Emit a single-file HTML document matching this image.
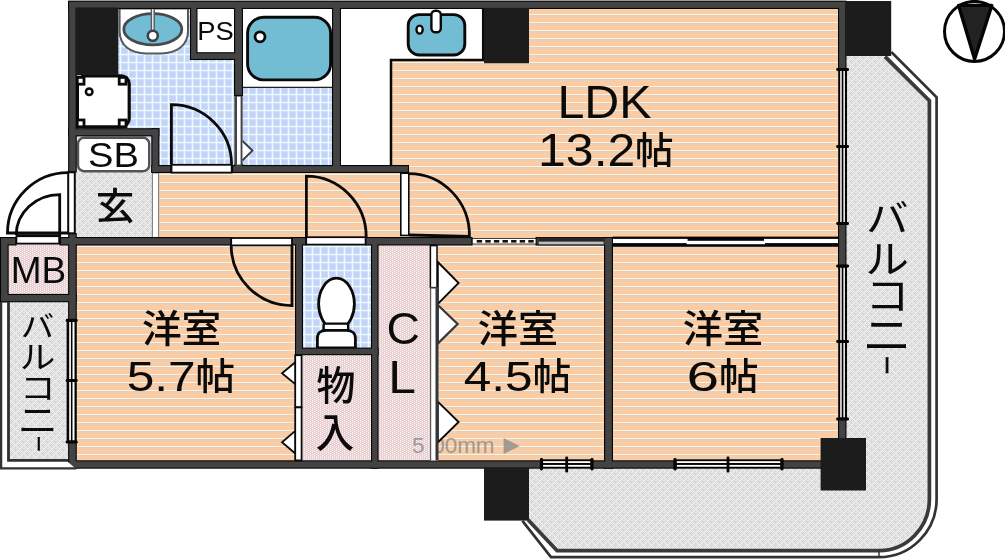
<!DOCTYPE html>
<html lang="ja"><head><meta charset="utf-8"><title>間取り図</title>
<style>html,body{margin:0;padding:0;background:#fff;overflow:hidden}svg{display:block}text{white-space:pre}</style></head>
<body><svg width="1005" height="559" viewBox="0 0 1005 559"><defs>
<pattern id="pO" width="8" height="8" patternUnits="userSpaceOnUse"><rect width="8" height="8" fill="#fccba2"/><rect y="0" width="8" height="1" fill="#efcfb3"/><rect y="1" width="8" height="1" fill="#f7cea9"/><rect y="4" width="8" height="1" fill="#fbcda5"/><rect y="5" width="8" height="1" fill="#f6cba6"/><rect y="6" width="8" height="1" fill="#fff3de"/><rect y="7" width="8" height="1" fill="#e7ccb6"/></pattern>
<pattern id="pB" width="8" height="8" patternUnits="userSpaceOnUse"><rect width="8" height="8" fill="#c5d3f6"/><rect x="-0.25" width="1.5" height="8" fill="#ecfcff"/><rect x="7.75" width="0.25" height="8" fill="#ecfcff"/><rect y="5.75" width="8" height="1.5" fill="#ecfcff"/></pattern>
<pattern id="pG" width="8" height="8" patternUnits="userSpaceOnUse"><rect width="8" height="8" fill="#dadada"/><g fill="#e7e7e7"><rect x="2" y="4" width="1" height="1"/><rect x="2" y="6" width="1" height="1"/><rect x="4" y="4" width="1" height="1"/><rect x="4" y="6" width="1" height="1"/><rect x="6" y="0" width="1" height="1"/><rect x="6" y="2" width="1" height="1"/><rect x="0" y="0" width="1" height="1"/><rect x="0" y="2" width="1" height="1"/></g><g fill="#f8f8f8"><rect x="0" y="4" width="1" height="1"/><rect x="0" y="6" width="1" height="1"/><rect x="1" y="3" width="1" height="1"/><rect x="1" y="7" width="1" height="1"/><rect x="2" y="2" width="1" height="1"/><rect x="2" y="0" width="1" height="1"/><rect x="3" y="1" width="1" height="1"/><rect x="3" y="1" width="1" height="1"/><rect x="4" y="0" width="1" height="1"/><rect x="4" y="2" width="1" height="1"/><rect x="5" y="7" width="1" height="1"/><rect x="5" y="3" width="1" height="1"/><rect x="6" y="6" width="1" height="1"/><rect x="6" y="4" width="1" height="1"/><rect x="7" y="5" width="1" height="1"/><rect x="7" y="5" width="1" height="1"/></g></pattern>
<pattern id="pP" width="4" height="2" patternUnits="userSpaceOnUse"><rect width="4" height="2" fill="#e8cecf"/><rect x="0" y="0" width="1.1" height="1" fill="#fffafa"/><rect x="2" y="1" width="1.1" height="1" fill="#fffafa"/></pattern>
</defs>
<rect width="1005" height="559" fill="#fff"/>
<rect x="341" y="8" width="499" height="232" fill="url(#pO)" />
<rect x="156" y="172" width="253" height="68" fill="url(#pO)" />
<rect x="74" y="244" width="223" height="218" fill="url(#pO)" />
<rect x="436" y="244" width="170" height="218" fill="url(#pO)" />
<rect x="611" y="244" width="229" height="218" fill="url(#pO)" />
<rect x="74" y="8" width="162" height="159" fill="url(#pB)" />
<rect x="241" y="86" width="93" height="81" fill="url(#pB)" />
<rect x="301" y="244" width="72" height="105" fill="url(#pB)" />
<rect x="6" y="244" width="64" height="52" fill="url(#pP)" />
<rect x="301" y="354" width="72" height="108" fill="url(#pP)" />
<rect x="377" y="244" width="55" height="218" fill="url(#pP)" />
<rect x="74" y="135" width="79" height="104" fill="url(#pG)" />
<rect x="8" y="302.5" width="62" height="158.0" fill="url(#pG)" />
<path d="M844 54L886.5 54L929.4 99.5L929.4 499A50.5 51.5 0 0 1 879 550.6L557.5 550.6L527 519L527 466L844 466Z" fill="url(#pG)"/>
<rect x="241" y="8" width="93" height="79" fill="#fff" />
<rect x="341" y="8" width="50" height="157.5" fill="#fff" />
<rect x="341" y="8" width="144" height="51.5" fill="#fff" />
<path d="M391 165.5L391 59.9L483.2 59.9L483.2 9" fill="none" stroke="#0a0a0a" stroke-width="2.5"/>
<path d="M241 87.3L334 87.3" fill="none" stroke="#222" stroke-width="1.3"/>
<rect x="196" y="8" width="40" height="45" fill="#fff" />
<rect x="247.6" y="17.3" width="83" height="62.6" rx="16" ry="16" fill="#72bdd3" stroke="#0a0a0a" stroke-width="2.9"/>
<circle cx="260" cy="36.8" r="5" fill="#fff" stroke="#0a0a0a" stroke-width="2.8"/>
<rect x="408.2" y="14.6" width="56.6" height="40.4" rx="11" ry="11" fill="#72bdd3" stroke="#0a0a0a" stroke-width="2.9"/>
<ellipse cx="419.6" cy="29.6" rx="3.1" ry="4" fill="#fff" stroke="#0a0a0a" stroke-width="2.4"/>
<rect x="431.4" y="10.8" width="9.4" height="21.4" rx="4" ry="4" fill="#fff" stroke="#0a0a0a" stroke-width="2.4"/>
<path d="M119.6 8.5L188 8.5L188 31C188 46 176 53.4 161 53.4L146 53.4C131 53.4 119.6 46 119.6 31Z" fill="#fff" stroke="#55585c" stroke-width="2"/>
<ellipse cx="152.8" cy="29.3" rx="29" ry="15.6" fill="#72bdd3" stroke="#46494e" stroke-width="2.8"/>
<path d="M152.8 8.5L152.8 30" stroke="#55585c" stroke-width="4.2" fill="none"/><path d="M152.8 8.5L152.8 30" stroke="#fff" stroke-width="1.3" fill="none"/>
<circle cx="152.8" cy="35.8" r="5" fill="#fff" stroke="#3c3f44" stroke-width="2.6"/>
<rect x="77.4" y="75.8" width="51.8" height="51" rx="8" ry="8" fill="#fff" stroke="#0a0a0a" stroke-width="3.2"/>
<rect x="77.19999999999999" y="77.39999999999999" width="6.8" height="6.8" fill="#fff" stroke="#0a0a0a" stroke-width="2.8"/>
<rect x="119.19999999999999" y="77.39999999999999" width="6.8" height="6.8" fill="#fff" stroke="#0a0a0a" stroke-width="2.8"/>
<rect x="77.19999999999999" y="120.0" width="6.8" height="6.8" fill="#fff" stroke="#0a0a0a" stroke-width="2.8"/>
<rect x="119.19999999999999" y="120.0" width="6.8" height="6.8" fill="#fff" stroke="#0a0a0a" stroke-width="2.8"/>
<circle cx="89.2" cy="91.8" r="3.3" fill="#fff" stroke="#0a0a0a" stroke-width="2.5"/>
<path d="M336.4 278.2C347 278.2 354.4 291 354.4 304C354.4 315 349 324 345 326L328 326C324 324 318.6 315 318.6 304C318.6 291 326 278.2 336.4 278.2Z" fill="#fff" stroke="#0a0a0a" stroke-width="2.8"/>
<rect x="323.6" y="323.6" width="24.6" height="7" rx="2" fill="#fff" stroke="#0a0a0a" stroke-width="2.4"/>
<path d="M317.4 348L317.4 338C317.4 333 321 330.4 326 330.4L346.5 330.4C351.5 330.4 355.4 333 355.4 338L355.4 348Z" fill="#fff" stroke="#0a0a0a" stroke-width="2.8"/>
<rect x="78" y="137.8" width="71.2" height="33.4" rx="6" ry="6" fill="#fff" stroke="#505357" stroke-width="2.4"/>
<rect x="152.4" y="173" width="6.2" height="64.5" fill="#fff" stroke="#777" stroke-width="1"/>
<rect x="68.1" y="0.6" width="778.4" height="8.4" fill="#050505" />
<rect x="68.1" y="1" width="8.7" height="171.5" fill="#050505" />
<rect x="68.1" y="233" width="8.7" height="12.5" fill="#050505" />
<rect x="68.1" y="237" width="8.7" height="83.5" fill="#050505" />
<rect x="68.1" y="441.5" width="8.7" height="27.2" fill="#050505" />
<rect x="68.1" y="128.2" width="91.3" height="8.2" fill="#050505" />
<rect x="151.3" y="128.2" width="8.1" height="44.8" fill="#050505" />
<rect x="151.3" y="165" width="20.2" height="8" fill="#050505" />
<rect x="232" y="165" width="177" height="8" fill="#050505" />
<rect x="190" y="1" width="7.5" height="59" fill="#050505" />
<rect x="190" y="52.2" width="53" height="7.8" fill="#050505" />
<rect x="234" y="1" width="9" height="95" fill="#050505" />
<rect x="234" y="164" width="9" height="9" fill="#050505" />
<rect x="332" y="1" width="9" height="172" fill="#050505" />
<rect x="0" y="237" width="16.5" height="8.5" fill="#050505" />
<rect x="59.5" y="237" width="172.0" height="8.5" fill="#050505" />
<rect x="291.5" y="237" width="15.0" height="8.5" fill="#050505" />
<rect x="365" y="237" width="107.5" height="8.5" fill="#050505" />
<rect x="535.5" y="237" width="77.5" height="8.5" fill="#050505" />
<rect x="0" y="237" width="8.7" height="65.3" fill="#050505" />
<rect x="0" y="293.9" width="76.8" height="8.4" fill="#050505" />
<rect x="295" y="237" width="8" height="118.2" fill="#050505" />
<rect x="371" y="237" width="7.6" height="231.7" fill="#050505" />
<rect x="295" y="347.6" width="83.6" height="7.6" fill="#050505" />
<rect x="68.1" y="460.3" width="473.4" height="8.4" fill="#050505" />
<rect x="592" y="460.3" width="83" height="8.4" fill="#050505" />
<rect x="782" y="460.3" width="64.5" height="8.4" fill="#050505" />
<rect x="604" y="237" width="9" height="231.7" fill="#050505" />
<rect x="838" y="1" width="8.5" height="68.5" fill="#050505" />
<rect x="838" y="223.5" width="8.5" height="42.5" fill="#050505" />
<rect x="838" y="419" width="8.5" height="49.7" fill="#050505" />
<rect x="69.19999999999999" y="1.7000000000000002" width="776.2" height="6.2" fill="#434343" />
<rect x="69.19999999999999" y="2.1" width="6.5" height="169.3" fill="#434343" />
<rect x="69.19999999999999" y="234.1" width="6.5" height="10.3" fill="#434343" />
<rect x="69.19999999999999" y="238.1" width="6.5" height="81.3" fill="#434343" />
<rect x="69.19999999999999" y="442.6" width="6.5" height="25.0" fill="#434343" />
<rect x="69.19999999999999" y="129.29999999999998" width="89.1" height="6.0" fill="#434343" />
<rect x="152.4" y="129.29999999999998" width="5.9" height="42.6" fill="#434343" />
<rect x="152.4" y="166.1" width="18.0" height="5.8" fill="#434343" />
<rect x="233.1" y="166.1" width="174.8" height="5.8" fill="#434343" />
<rect x="191.1" y="2.1" width="5.3" height="56.8" fill="#434343" />
<rect x="191.1" y="53.300000000000004" width="50.8" height="5.6" fill="#434343" />
<rect x="235.1" y="2.1" width="6.8" height="92.8" fill="#434343" />
<rect x="235.1" y="165.1" width="6.8" height="6.8" fill="#434343" />
<rect x="333.1" y="2.1" width="6.8" height="169.8" fill="#434343" />
<rect x="1.1" y="238.1" width="14.3" height="6.3" fill="#434343" />
<rect x="60.6" y="238.1" width="169.8" height="6.3" fill="#434343" />
<rect x="292.6" y="238.1" width="12.8" height="6.3" fill="#434343" />
<rect x="366.1" y="238.1" width="105.3" height="6.3" fill="#434343" />
<rect x="536.6" y="238.1" width="75.3" height="6.3" fill="#434343" />
<rect x="1.1" y="238.1" width="6.5" height="63.1" fill="#434343" />
<rect x="1.1" y="295.0" width="74.6" height="6.2" fill="#434343" />
<rect x="296.1" y="238.1" width="5.8" height="116.0" fill="#434343" />
<rect x="372.1" y="238.1" width="5.4" height="229.5" fill="#434343" />
<rect x="296.1" y="348.70000000000005" width="81.4" height="5.4" fill="#434343" />
<rect x="69.19999999999999" y="461.40000000000003" width="471.2" height="6.2" fill="#434343" />
<rect x="593.1" y="461.40000000000003" width="80.8" height="6.2" fill="#434343" />
<rect x="783.1" y="461.40000000000003" width="62.3" height="6.2" fill="#434343" />
<rect x="605.1" y="238.1" width="6.8" height="229.5" fill="#434343" />
<rect x="839.1" y="2.1" width="6.3" height="66.3" fill="#434343" />
<rect x="839.1" y="224.6" width="6.3" height="40.3" fill="#434343" />
<rect x="839.1" y="420.1" width="6.3" height="47.5" fill="#434343" />
<rect x="75.5" y="7.5" width="42.8" height="67.7" fill="#1c1c1c" />
<rect x="484" y="8" width="45" height="55.2" fill="#1c1c1c" />
<rect x="845" y="1" width="46.2" height="55" fill="#1c1c1c" />
<rect x="484" y="467.5" width="45" height="53.1" fill="#1c1c1c" />
<rect x="820.6" y="438" width="45.4" height="52.5" fill="#1c1c1c" />
<rect x="538.5" y="237.6" width="66.0" height="7.8" fill="#262626" />
<rect x="538.8" y="241.6" width="64.8" height="2.7" fill="#bdbdbd" />
<rect x="472.3" y="238.4" width="63.7" height="5.6" fill="#fff" stroke="#111" stroke-width="0.8"/>
<rect x="476.7" y="240" width="5.4" height="2.6" fill="#111" />
<rect x="485.3" y="240" width="5.4" height="2.6" fill="#111" />
<rect x="493.9" y="240" width="5.4" height="2.6" fill="#111" />
<rect x="502.5" y="240" width="5.4" height="2.6" fill="#111" />
<rect x="511.09999999999997" y="240" width="5.4" height="2.6" fill="#111" />
<rect x="519.7" y="240" width="5.4" height="2.6" fill="#111" />
<rect x="528.3" y="240" width="5.4" height="2.6" fill="#111" />
<rect x="612.5" y="236.6" width="226.0" height="10.2" fill="#050505" />
<rect x="613" y="238.9" width="74.6" height="4.2" fill="#fff" />
<rect x="686.6" y="240.8" width="78.4" height="3.4" fill="#fff" />
<rect x="764" y="238.9" width="74" height="4.2" fill="#fff" />
<path d="M885 56.6L929.4 100.8L929.4 499A50.5 51.5 0 0 1 879 550.6L557 550.6L528 519.8" fill="none" stroke="#3a3a3a" stroke-width="3.7"/>
<path d="M891.3 52L936.6 97.2L936.6 499A57.6 58.2 0 0 1 879 557.2L551 557.2L522.4 520.8" fill="none" stroke="#333" stroke-width="2.7"/>
<path d="M879 549.5L879 558" stroke="#333" stroke-width="1.5"/>
<path d="M67.4 461.6L75.6 468.4L67.4 468.4Z" fill="#fff"/>
<path d="M8.5 302L8.5 460.4L68 460.4" fill="none" stroke="#303030" stroke-width="2.8"/>
<path d="M1.1 302L1.1 468.3L76.2 468.3" fill="none" stroke="#333" stroke-width="2.3"/>
<rect x="838.2" y="69.5" width="8.8" height="154.0" fill="#050505" />
<rect x="840.2" y="71.0" width="1.5" height="151.0" fill="#fff" />
<rect x="843.4000000000001" y="71.0" width="1.5" height="151.0" fill="#fff" />
<rect x="836.2" y="67.9" width="12.799999999999955" height="3.2" rx="1.4" fill="#050505"/>
<rect x="836.2" y="144.9" width="12.799999999999955" height="3.2" rx="1.4" fill="#050505"/>
<rect x="836.2" y="221.9" width="12.799999999999955" height="3.2" rx="1.4" fill="#050505"/>
<rect x="838.2" y="266" width="8.8" height="153" fill="#050505" />
<rect x="840.2" y="267.5" width="1.5" height="150.0" fill="#fff" />
<rect x="843.4000000000001" y="267.5" width="1.5" height="150.0" fill="#fff" />
<rect x="836.2" y="264.4" width="12.799999999999955" height="3.2" rx="1.4" fill="#050505"/>
<rect x="836.2" y="339.9" width="12.799999999999955" height="3.2" rx="1.4" fill="#050505"/>
<rect x="836.2" y="417.4" width="12.799999999999955" height="3.2" rx="1.4" fill="#050505"/>
<rect x="66.6" y="320.4" width="10.2" height="121.6" fill="#050505" />
<rect x="69.19999999999999" y="321.9" width="1.7" height="118.6" fill="#fff" />
<rect x="72.5" y="321.9" width="2.0" height="118.6" fill="#fff" />
<rect x="65.69999999999999" y="318.79999999999995" width="12.000000000000004" height="3.2" rx="1.4" fill="#050505"/>
<rect x="65.69999999999999" y="378.9" width="12.000000000000004" height="3.2" rx="1.4" fill="#050505"/>
<rect x="65.69999999999999" y="440.4" width="12.000000000000004" height="3.2" rx="1.4" fill="#050505"/>
<rect x="541.5" y="459.3" width="50.5" height="9.4" fill="#050505" />
<rect x="543.0" y="461.18" width="47.5" height="1.8" fill="#fff" />
<rect x="543.0" y="464.94" width="47.5" height="1.8" fill="#fff" />
<rect x="539.9" y="458.1" width="3.2" height="12.399999999999977" rx="1.4" fill="#050505"/>
<rect x="590.4" y="458.1" width="3.2" height="12.399999999999977" rx="1.4" fill="#050505"/>
<rect x="565.3000000000001" y="456.5" width="2.8" height="15.999999999999977" rx="1.2" fill="#050505"/>
<rect x="675" y="459.3" width="107" height="9.4" fill="#050505" />
<rect x="676.5" y="461.18" width="104.0" height="1.8" fill="#fff" />
<rect x="676.5" y="464.94" width="104.0" height="1.8" fill="#fff" />
<rect x="673.4" y="458.1" width="3.2" height="12.399999999999977" rx="1.4" fill="#050505"/>
<rect x="780.4" y="458.1" width="3.2" height="12.399999999999977" rx="1.4" fill="#050505"/>
<rect x="726.6" y="456.5" width="2.8" height="15.999999999999977" rx="1.2" fill="#050505"/>
<rect x="68.2" y="172.3" width="6.6" height="61" fill="#fff" stroke="#0a0a0a" stroke-width="2"/>
<path d="M68 172.6A60.5 60.5 0 0 0 7.5 233L68 233" fill="none" stroke="#0a0a0a" stroke-width="2.8"/>
<path d="M16 235.7L61 235.7" fill="none" stroke="#0a0a0a" stroke-width="2.8"/>
<rect x="16.4" y="236.2" width="43.4" height="7.4" fill="#fff" stroke="#0a0a0a" stroke-width="1.8"/>
<path d="M59.7 243.4L59.7 194.6A43.6 40.4 0 0 0 16.2 235" fill="none" stroke="#0a0a0a" stroke-width="2.8"/>
<rect x="171.5" y="164.8" width="60.2" height="7.8" fill="#fff" stroke="#0a0a0a" stroke-width="1.8"/>
<path d="M171.4 164.6L171.4 104.6A60.2 60 0 0 1 231.6 164.6" fill="none" stroke="#0a0a0a" stroke-width="2.8"/>
<rect x="306.2" y="237.2" width="59.4" height="7.4" fill="#fff" stroke="#0a0a0a" stroke-width="1.8"/>
<path d="M306.4 237L306.4 176.2A60 60.8 0 0 1 366.2 237" fill="none" stroke="#0a0a0a" stroke-width="2.8"/>
<rect x="231.2" y="238" width="60.8" height="7.4" fill="#fff" stroke="#0a0a0a" stroke-width="1.8"/>
<path d="M292 245.4L292 305.6A61 60.2 0 0 1 231.2 245.4" fill="none" stroke="#0a0a0a" stroke-width="2.8"/>
<rect x="400.8" y="173.2" width="8" height="62.2" fill="#fff" stroke="#0a0a0a" stroke-width="1.6"/>
<path d="M409 173.6A60.6 61.6 0 0 1 469.4 236.4L409 235" fill="none" stroke="#0a0a0a" stroke-width="2.8"/>
<rect x="234.4" y="96" width="8.2" height="69" fill="#434343" />
<rect x="237" y="96.6" width="3.6" height="68.0" fill="#fff" />
<path d="M242.6 141L252.4 150.6L242.6 160.2" fill="#fff" stroke="#3e4146" stroke-width="2"/>
<path d="M295.6 362L282 373.2L295.6 384.4Z" fill="#fff" stroke="#0a0a0a" stroke-width="1.8"/>
<path d="M295.6 430.6L282 442.2L295.6 453.8Z" fill="#fff" stroke="#0a0a0a" stroke-width="1.8"/>
<rect x="295.2" y="355.2" width="6.4" height="52" fill="#fff" stroke="#0a0a0a" stroke-width="1.8"/>
<rect x="295.2" y="407.4" width="6.4" height="53" fill="#fff" stroke="#0a0a0a" stroke-width="1.8"/>
<g opacity="0.8"><text transform="matrix(0.2243 0 0 0.2157 0 453.48)" style="font-family:'Liberation Sans', sans-serif;font-size:100px" fill="#8c8c8c"><tspan x="1836.33">5</tspan><tspan x="1916.27">1</tspan><tspan x="1926.85">00mm</tspan></text><path d="M503.6 438L519.8 446L503.6 454Z" fill="#8c8c8c"/></g>
<path d="M437.8 262L458.6 283L437.8 304Z" fill="#fff" stroke="#0a0a0a" stroke-width="1.9"/>
<path d="M437.8 305L457.6 324L437.8 343.6Z" fill="#fff" stroke="#33363a" stroke-width="2.2"/>
<path d="M437.8 401.6L458.6 422L437.8 442.4Z" fill="#fff" stroke="#0a0a0a" stroke-width="1.9"/>
<rect x="430.4" y="245.6" width="6.6" height="42" fill="#fff" stroke="#0a0a0a" stroke-width="1.5"/>
<rect x="430.2" y="288" width="7.8" height="172.4" fill="#fff"/>
<path d="M430.6 288L430.6 460.4" stroke="#555" stroke-width="1.2"/><path d="M437 288L437 460.4" stroke="#33363a" stroke-width="3"/><path d="M430 288L438 288" stroke="#555" stroke-width="1.2"/>
<g opacity="0.996">
<text fill="#0a0a0a"><tspan x="557.43" y="118.20" font-size="47.10" textLength="94.11" lengthAdjust="spacingAndGlyphs" style="font-family:'Liberation Sans', sans-serif;font-weight:400">LDK</tspan><tspan x="538.10" y="165.75" font-size="45.35" textLength="97.21" lengthAdjust="spacingAndGlyphs" style="font-family:'Liberation Sans', sans-serif;font-weight:400">13.2</tspan><tspan x="635.07" y="164.07" font-size="37.02" textLength="38.59" lengthAdjust="spacingAndGlyphs" style="font-family:'Liberation Sans', 'Noto Sans CJK JP', sans-serif;font-weight:500">帖</tspan></text>
<text fill="#0a0a0a"><tspan x="197.21" y="40.05" font-size="25.21" textLength="36.49" lengthAdjust="spacingAndGlyphs" style="font-family:'Liberation Sans', sans-serif;font-weight:400">PS</tspan></text>
<text fill="#0a0a0a"><tspan x="88.09" y="167.05" font-size="34.79" textLength="50.87" lengthAdjust="spacingAndGlyphs" style="font-family:'Liberation Sans', sans-serif;font-weight:400">SB</tspan></text>
<text fill="#0a0a0a"><tspan x="95.67" y="220.21" font-size="36.95" textLength="38.57" lengthAdjust="spacingAndGlyphs" style="font-family:'Liberation Sans', 'Noto Sans CJK JP', sans-serif;font-weight:500">玄</tspan></text>
<text fill="#0a0a0a"><tspan x="10.74" y="283.00" font-size="37.10" textLength="55.51" lengthAdjust="spacingAndGlyphs" style="font-family:'Liberation Sans', sans-serif;font-weight:400">MB</tspan></text>
<text fill="#0a0a0a"><tspan x="141.91" y="341.81" font-size="37.66" textLength="79.37" lengthAdjust="spacingAndGlyphs" style="font-family:'Liberation Sans', 'Noto Sans CJK JP', sans-serif;font-weight:500">洋室</tspan><tspan x="126.72" y="391.07" font-size="42.96" textLength="68.98" lengthAdjust="spacingAndGlyphs" style="font-family:'Liberation Sans', sans-serif;font-weight:400">5.7</tspan><tspan x="195.62" y="390.06" font-size="37.13" textLength="39.57" lengthAdjust="spacingAndGlyphs" style="font-family:'Liberation Sans', 'Noto Sans CJK JP', sans-serif;font-weight:500">帖</tspan></text>
<text fill="#0a0a0a"><tspan x="477.89" y="341.81" font-size="37.66" textLength="80.42" lengthAdjust="spacingAndGlyphs" style="font-family:'Liberation Sans', 'Noto Sans CJK JP', sans-serif;font-weight:500">洋室</tspan><tspan x="463.81" y="391.07" font-size="42.96" textLength="68.88" lengthAdjust="spacingAndGlyphs" style="font-family:'Liberation Sans', sans-serif;font-weight:400">4.5</tspan><tspan x="532.78" y="390.06" font-size="37.13" textLength="38.48" lengthAdjust="spacingAndGlyphs" style="font-family:'Liberation Sans', 'Noto Sans CJK JP', sans-serif;font-weight:500">帖</tspan></text>
<text fill="#0a0a0a"><tspan x="682.89" y="341.81" font-size="37.66" textLength="80.42" lengthAdjust="spacingAndGlyphs" style="font-family:'Liberation Sans', 'Noto Sans CJK JP', sans-serif;font-weight:500">洋室</tspan><tspan x="686.57" y="391.07" font-size="42.96" textLength="32.55" lengthAdjust="spacingAndGlyphs" style="font-family:'Liberation Sans', sans-serif;font-weight:400">6</tspan><tspan x="719.02" y="390.06" font-size="37.13" textLength="39.57" lengthAdjust="spacingAndGlyphs" style="font-family:'Liberation Sans', 'Noto Sans CJK JP', sans-serif;font-weight:500">帖</tspan></text>
<text fill="#0a0a0a"><tspan x="316.42" y="400.04" font-size="39.57" textLength="38.94" lengthAdjust="spacingAndGlyphs" style="font-family:'Liberation Sans', 'Noto Sans CJK JP', sans-serif;font-weight:500">物</tspan><tspan x="315.66" y="446.69" font-size="40.11" textLength="38.49" lengthAdjust="spacingAndGlyphs" style="font-family:'Liberation Sans', 'Noto Sans CJK JP', sans-serif;font-weight:500">入</tspan></text>
<text fill="#0a0a0a"><tspan x="386.48" y="343.96" font-size="44.37" textLength="33.47" lengthAdjust="spacingAndGlyphs" style="font-family:'Liberation Sans', sans-serif;font-weight:400">C</tspan><tspan x="388.22" y="393.00" font-size="45.51" textLength="27.69" lengthAdjust="spacingAndGlyphs" style="font-family:'Liberation Sans', sans-serif;font-weight:400">L</tspan></text>
<text transform="matrix(1.1437 0 0 1 0 0)" style="font-family:'Liberation Sans', 'Noto Sans CJK JP', sans-serif;font-weight:400" fill="#0a0a0a"><tspan x="18.24" y="336.91" font-size="29.28">バ</tspan><tspan x="17.26" y="368.14" font-size="31.21">ル</tspan><tspan x="17.46" y="399.19" font-size="31.18">コ</tspan><tspan x="15.44" y="432.65" font-size="35.13">ニ</tspan><tspan x="27.07" y="435.43" font-size="16.43" rotate="90" stroke="#0a0a0a" stroke-width="0.55">ー</tspan></text>
<text transform="matrix(1.1221 0 0 1 0 0)" style="font-family:'Liberation Sans', 'Noto Sans CJK JP', sans-serif;font-weight:400" fill="#0a0a0a"><tspan x="771.81" y="232.22" font-size="37.95">バ</tspan><tspan x="771.03" y="272.71" font-size="39.06">ル</tspan><tspan x="771.13" y="310.40" font-size="39.56">コ</tspan><tspan x="768.64" y="350.94" font-size="43.72">ニ</tspan><tspan x="783.12" y="355.65" font-size="19.20" rotate="90" stroke="#0a0a0a" stroke-width="0.74">ー</tspan></text>
</g>
<circle cx="974.5" cy="31.4" r="30" fill="#fff" stroke="#050505" stroke-width="3"/>
<path d="M958.6 5.4L991.8 5.4L974.6 59Z" fill="#222" stroke="#050505" stroke-width="3.4" stroke-linejoin="round"/></svg></body></html>
